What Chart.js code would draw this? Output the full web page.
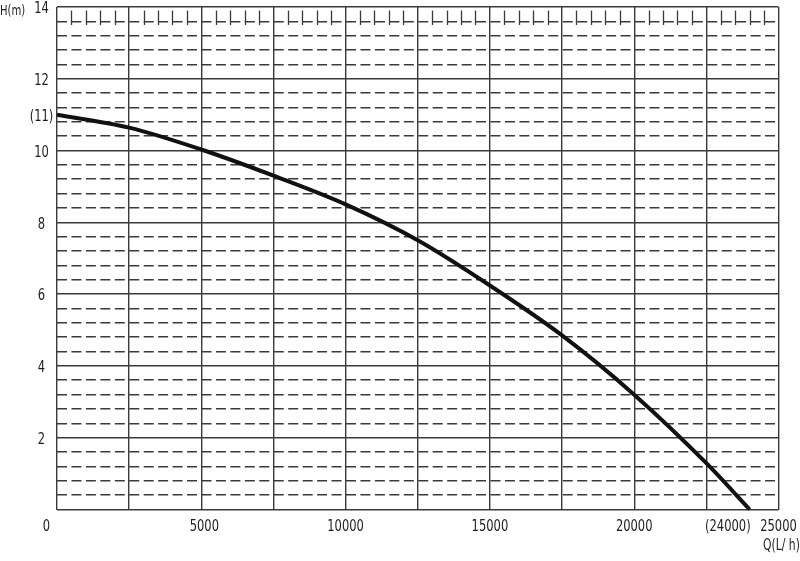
<!DOCTYPE html>
<html><head><meta charset="utf-8">
<script src="https://cdn.jsdelivr.net/npm/chart.js@4"></script>
<style>html,body{margin:0;padding:0;background:#fff;}</style>
</head><body>
<canvas id="c" width="800" height="561" style="display:block;width:800px;height:561px"></canvas>
<script>
// ---- data ----
const flowQ = [0, 2500, 5000, 7500, 10000, 12500, 15000, 17500, 20000, 22500, 24000];
const headH = [11.0, 10.64, 10.03, 9.30, 8.5, 7.5, 6.24, 4.85, 3.2, 1.29, 0];
const yLabelValues = [2, 4, 6, 8, 10, 11, 12, 14];
const yLabelTexts = ['2', '4', '6', '8', '10', '(11)', '12', '14'];
const xLabelValues = [0, 5000, 10000, 15000, 20000, 24000, 25000];
const xLabelTexts = ['0', '5000', '10000', '15000', '20000', '(24000)', '25000'];
const yUnitText = 'H(m)';
const xUnitText = 'Q(L/ h)';

const FONT = '"DejaVu Sans Condensed", "DejaVu Sans", sans-serif';
const SQUEEZE = 0.8;
const GRID = '#3a3a3a';
const TXT = '#1e1e1e';

function isMajor(v) { return Math.abs(v / 2 - Math.round(v / 2)) < 1e-6; }

function squeezedText(c, text, x, y, align, size) {
  c.save();
  c.font = size + 'px ' + FONT;
  c.textAlign = align;
  c.textBaseline = 'middle';
  c.scale(SQUEEZE, 1);
  c.fillText(text, x / SQUEEZE, y);
  c.restore();
}

const extras = {
  id: 'extras',
  beforeDatasetsDraw(chart) {
    const c = chart.ctx, xs = chart.scales.x, ys = chart.scales.y;
    c.save();
    c.strokeStyle = GRID; c.lineWidth = 1.3;
    c.beginPath();
    for (let q = 500; q < 25000; q += 500) {
      if (q % 2500 === 0) continue;
      const px = Math.round(xs.getPixelForValue(q)) + 0.5;
      c.moveTo(px, ys.getPixelForValue(13.9));
      c.lineTo(px, ys.getPixelForValue(13.5));
    }
    c.stroke();
    c.restore();
  },
  afterDraw(chart) {
    const c = chart.ctx, xs = chart.scales.x, ys = chart.scales.y, a = chart.chartArea;
    c.save();
    c.fillStyle = TXT;
    yLabelValues.forEach((v, i) => {
      squeezedText(c, yLabelTexts[i], a.left - 15.5, ys.getPixelForValue(v) + 2, 'center', 16);
    });
    const ly = a.bottom + 17;
    xLabelValues.forEach((v, i) => {
      const t = xLabelTexts[i];
      let px = xs.getPixelForValue(v), align = 'center';
      if (t === '0') px -= 10.5;
      if (t.charAt(0) === '(') { align = 'right'; px += 1; }
      if (t === '5000') px += 3;
      squeezedText(c, t, px, ly, align, 16);
    });
    squeezedText(c, yUnitText, 0, a.top + 4, 'left', 14);
    squeezedText(c, xUnitText, xs.getPixelForValue(25000) + 3, a.bottom + 37, 'center', 15);
    c.restore();
  }
};

new Chart(document.getElementById('c'), {
  type: 'line',
  data: {
    datasets: [{
      data: flowQ.map((q, i) => ({ x: q, y: headH[i] })),
      borderColor: '#111',
      borderWidth: 4,
      pointRadius: 0,
      fill: false,
      cubicInterpolationMode: 'monotone',
      clip: 6
    }]
  },
  plugins: [extras],
  options: {
    responsive: false,
    animation: false,
    devicePixelRatio: 1,
    layout: { padding: { top: 7, right: 21.5, left: 57, bottom: 0 } },
    plugins: { legend: { display: false }, tooltip: { enabled: false } },
    scales: {
      x: {
        type: 'linear', min: 0, max: 25000,
        ticks: { stepSize: 2500, display: false },
        grid: { color: GRID, lineWidth: 1.4, drawTicks: false },
        border: { display: false },
        afterFit: (s) => { s.height = 51.5; s.paddingLeft = 0; s.paddingRight = 0; }
      },
      y: {
        type: 'linear', min: 0, max: 14,
        ticks: { stepSize: 0.4, display: false },
        grid: { color: GRID, lineWidth: (ctx) => (ctx.tick && isMajor(ctx.tick.value)) ? 1.4 : 1.6, drawTicks: false },
        border: {
          display: false,
          dash: (ctx) => (ctx.tick && !isMajor(ctx.tick.value)) ? [10, 4.45] : [],
          dashOffset: 0
        },
        afterFit: (s) => { s.width = 0; s.paddingTop = 0; s.paddingBottom = 0; }
      }
    }
  }
});
</script>
</body></html>
